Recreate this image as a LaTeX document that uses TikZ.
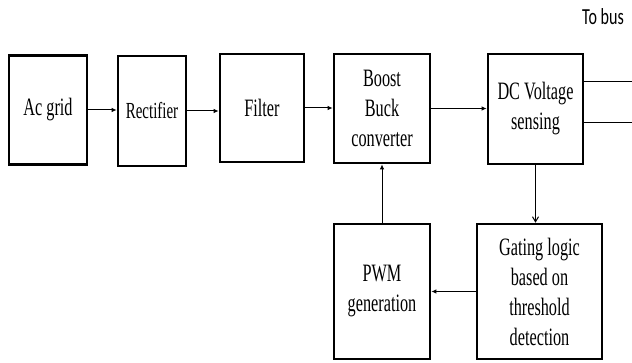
\documentclass[tikz,border=0pt]{standalone}
\usepackage{fontspec}
\setmainfont[FakeStretch=0.65]{Liberation Serif}
\newfontfamily\busfont[FakeStretch=0.7]{Carlito}
\usetikzlibrary{arrows.meta}
\usetikzlibrary{positioning}
\tikzset{block/.style={draw,line width=2.6pt,inner sep=0pt,align=center,
                        font=\fontsize{25}{30}\selectfont},
         sig/.style={line width=1pt,-{Latex[length=5pt,width=4.5pt]}},
         barb/.style={line width=1pt,-{Straight Barb[length=5pt,width=6pt]}},
         tobus/.style={line width=1pt},
         }
\begin{document}
\begin{tikzpicture}[x=1pt,y=-1pt]
\useasboundingbox (0,0) rectangle (632,363);
% top row
\node[block,minimum width=78pt,minimum height=109pt] (grid) at (48,110) {Ac grid};
\node[block,minimum width=68pt,minimum height=110pt,font=\fontsize{23}{28}\selectfont] (rect) at (152,111) {Rectifier};
\node[block,minimum width=84pt,minimum height=108pt] (filter) at (262,108) {Filter};
\node[block,minimum width=96pt,minimum height=109pt] (conv) at (382,108.5) {Boost\\Buck\\converter};
\node[block,minimum width=95pt,minimum height=110pt] (sense) at (535.5,109) {DC Voltage\\sensing};
% bottom row
\node[block,minimum width=96pt,minimum height=135pt] (pwm) at (382,291.5) {PWM\\generation};
\node[block,minimum width=125pt,minimum height=135pt] (gate) at (539.5,291.5) {Gating logic\\based on\\threshold\\detection};
\node[font=\busfont\fontsize{23}{26}\selectfont] (bus) at (603,17) {To bus};
\coordinate (busa) at (632,82);
\coordinate (busb) at (632,123);

\draw[sig] (grid.east) -- (grid.east -| rect.west);
\draw[sig] (rect.east) -- (rect.east -| filter.west);
\draw[sig] (filter.east) -- (filter.east -| conv.west);
\draw[sig] (conv.east) -- (conv.east -| sense.west);
\draw[tobus] (sense.east |- busa) -- (busa);
\draw[tobus] (sense.east |- busb) -- (busb);
\draw[barb] (sense.south) -- (sense.south |- gate.north);
\draw[sig] (gate.west) -- (pwm.east);
\draw[sig] (pwm.north) -- (conv.south);
\end{tikzpicture}
\end{document}
